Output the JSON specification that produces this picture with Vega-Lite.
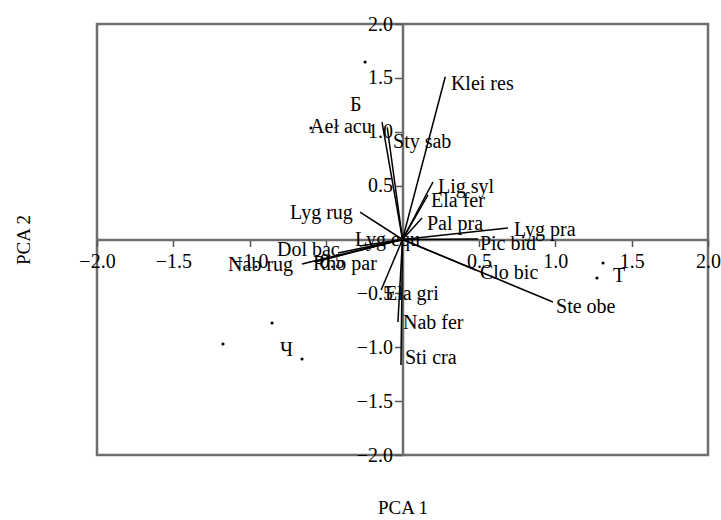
{
  "$schema": "https://vega.github.io/schema/vega-lite/v6.json",
  "autosize": {"type": "none"},
  "width": 611,
  "height": 431,
  "padding": {"left": 97, "top": 24, "right": 13, "bottom": 65},
  "background": "white",
  "config": {
    "view": {"stroke": "#6e6e6e", "strokeWidth": 2.5},
    "font": "Liberation Serif, Times New Roman, serif"
  },
  "datasets": {
    "vectors": [
      {"name": "Klei res", "vx": 0.28, "vy": 1.51, "lx": 0.317, "ly": 1.44},
      {"name": "Aeł acu", "vx": -0.134, "vy": 1.09, "lx": -0.605, "ly": 1.044},
      {"name": "Sty sab", "vx": -0.1, "vy": 1.04, "lx": -0.062, "ly": 0.905},
      {"name": "Lig syl", "vx": 0.2, "vy": 0.534, "lx": 0.232, "ly": 0.487},
      {"name": "Ela fer", "vx": 0.167, "vy": 0.413, "lx": 0.187, "ly": 0.357},
      {"name": "Pal pra", "vx": 0.128, "vy": 0.2, "lx": 0.16, "ly": 0.144},
      {"name": "Lyg pra", "vx": 0.69, "vy": 0.107, "lx": 0.73, "ly": 0.088},
      {"name": "Pic bid", "vx": 0.494, "vy": 0.005, "lx": 0.507, "ly": -0.042},
      {"name": "Clo bic", "vx": 0.48, "vy": -0.283, "lx": 0.507, "ly": -0.31},
      {"name": "Ste obe", "vx": 0.985, "vy": -0.58, "lx": 1.005, "ly": -0.626},
      {"name": "Sti cra", "vx": -0.01, "vy": -1.165, "lx": 0.016, "ly": -1.1},
      {"name": "Nab fer", "vx": -0.03, "vy": -0.766, "lx": 0.003, "ly": -0.775},
      {"name": "Ela gri", "vx": -0.14, "vy": -0.469, "lx": -0.115, "ly": -0.506},
      {"name": "Rho par", "vx": -0.573, "vy": -0.209, "lx": -0.586, "ly": -0.227},
      {"name": "Nab rug", "vx": -0.658, "vy": -0.227, "lx": -1.142, "ly": -0.237},
      {"name": "Dol bac", "vx": -0.422, "vy": -0.125, "lx": -0.822, "ly": -0.097},
      {"name": "Lyg rug", "vx": -0.278, "vy": 0.255, "lx": -0.736, "ly": 0.246},
      {"name": "Lyg equ", "vx": -0.28, "vy": -0.06, "lx": -0.311, "ly": 0.0}
    ],
    "sites": [
      {"group": "Б", "x": -0.245, "y": 1.647},
      {"group": "Б", "x": -0.599, "y": 1.035},
      {"group": "Ч", "x": -0.854, "y": -0.775},
      {"group": "Ч", "x": -1.175, "y": -0.97},
      {"group": "Ч", "x": -0.658, "y": -1.109},
      {"group": "Т", "x": 1.313, "y": -0.218},
      {"group": "Т", "x": 1.273, "y": -0.357}
    ],
    "groups": [
      {"group": "Б", "x": -0.344, "y": 1.248},
      {"group": "Ч", "x": -0.802, "y": -1.026},
      {"group": "Т", "x": 1.378, "y": -0.339}
    ]
  },
  "layer": [
    {
      "data": {"name": "vectors"},
      "mark": {"type": "rule", "color": "black", "strokeWidth": 1.5},
      "encoding": {
        "x": {
          "field": "vx", "type": "quantitative",
          "scale": {"domain": [-2, 2], "nice": false, "zero": false},
          "axis": {
            "orient": "bottom", "offset": -215.5,
            "values": [-2, -1.5, -1, -0.5, 0, 0.5, 1, 1.5, 2],
            "labelExpr": "datum.value == 0 ? '' : format(datum.value, '.1f')",
            "grid": false, "tickSize": 7, "tickWidth": 1.5, "tickColor": "#555",
            "domainColor": "#6e6e6e", "domainWidth": 2.5,
            "labelFont": "Liberation Serif", "labelFontSize": 20, "labelColor": "black",
            "labelPadding": 5, "labelFlush": false, "labelOverlap": false, "labelBound": false,
            "title": "PCA 1", "titleFont": "Liberation Serif", "titleFontSize": 19,
            "titleFontWeight": "normal", "titleColor": "black",
            "titleBaseline": "middle", "titleY": 268
          }
        },
        "x2": {"datum": 0},
        "y": {
          "field": "vy", "type": "quantitative",
          "scale": {"domain": [-2, 2], "nice": false, "zero": false},
          "axis": {
            "orient": "left", "offset": -305.5,
            "values": [-2, -1.5, -1, -0.5, 0, 0.5, 1, 1.5, 2],
            "labelExpr": "datum.value == 0 ? '' : format(datum.value, '.1f')",
            "grid": false, "tickSize": 8, "tickWidth": 1.5, "tickColor": "#555",
            "domainColor": "#6e6e6e", "domainWidth": 2.5,
            "labelFont": "Liberation Serif", "labelFontSize": 20, "labelColor": "black",
            "labelPadding": 2, "labelFlush": false, "labelOverlap": false, "labelBound": false,
            "title": "PCA 2", "titleFont": "Liberation Serif", "titleFontSize": 19,
            "titleFontWeight": "normal", "titleColor": "black",
            "titleX": -379.5, "titleBaseline": "middle"
          }
        },
        "y2": {"datum": 0}
      }
    },
    {
      "data": {"name": "sites"},
      "mark": {"type": "circle", "color": "black", "opacity": 1, "size": 10},
      "encoding": {
        "x": {"field": "x", "type": "quantitative"},
        "y": {"field": "y", "type": "quantitative"}
      }
    },
    {
      "data": {"name": "vectors"},
      "mark": {"type": "text", "align": "left", "baseline": "middle", "font": "Liberation Serif", "fontSize": 20, "color": "black"},
      "encoding": {
        "x": {"field": "lx", "type": "quantitative"},
        "y": {"field": "ly", "type": "quantitative"},
        "text": {"field": "name"}
      }
    },
    {
      "data": {"name": "groups"},
      "mark": {"type": "text", "align": "left", "baseline": "middle", "font": "Liberation Serif", "fontSize": 20, "color": "black"},
      "encoding": {
        "x": {"field": "x", "type": "quantitative"},
        "y": {"field": "y", "type": "quantitative"},
        "text": {"field": "group"}
      }
    }
  ]
}
